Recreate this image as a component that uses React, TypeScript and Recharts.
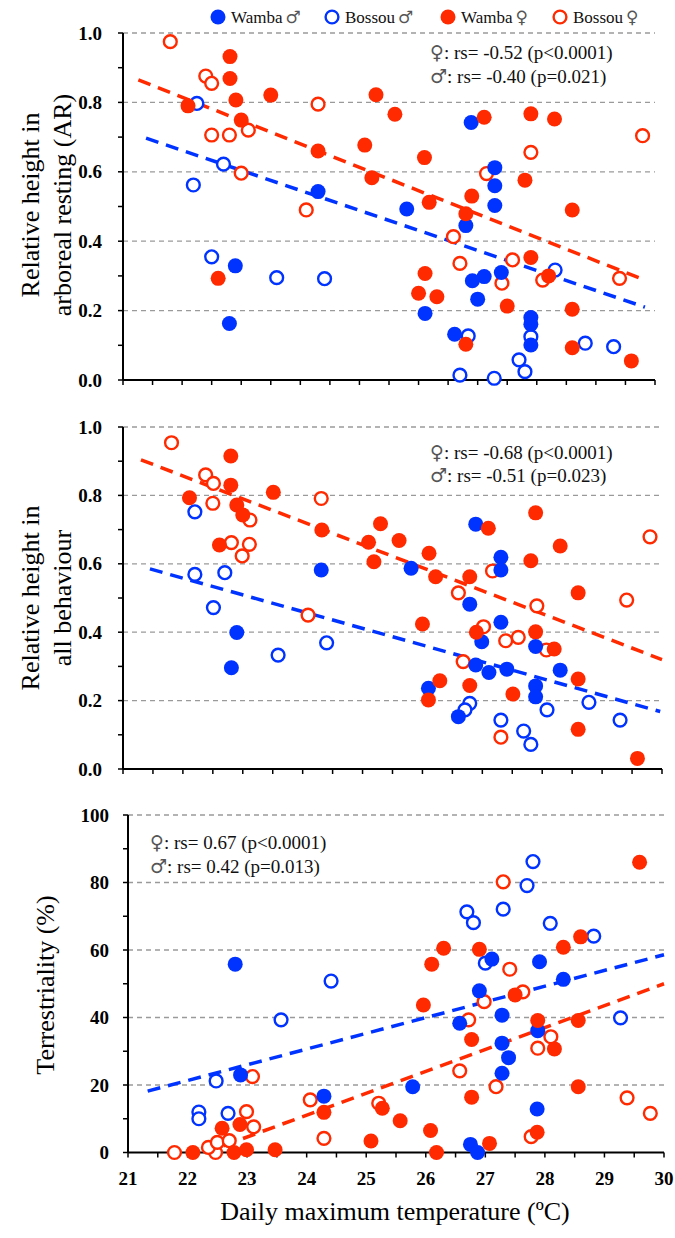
import React from 'react';
import { ScatterChart, Scatter, XAxis, YAxis, CartesianGrid, ReferenceLine } from 'recharts';

const BLUE = '#0033ff';
const RED = '#ff2a00';
const SERIF = '"Liberation Serif", "Times New Roman", serif';
const SYMBOL = '"DejaVu Sans", sans-serif';

// shared axis ticks
const xTicks = [21, 21.5, 22, 22.5, 23, 23.5, 24, 24.5, 25, 25.5, 26, 26.5, 27, 27.5, 28, 28.5, 29, 29.5, 30];
const fracTicks = [0, 0.1, 0.2, 0.3, 0.4, 0.5, 0.6, 0.7, 0.8, 0.9, 1.0];
const fracGrid = [0.2, 0.4, 0.6, 0.8, 1.0];
const pctTicks = [0, 10, 20, 30, 40, 50, 60, 70, 80, 90, 100];
const pctGrid = [20, 40, 60, 80, 100];

// panel 1: relative height in arboreal resting
const arWambaM = [[24.30, 0.543], [22.90, 0.329], [22.80, 0.163], [26.89, 0.742], [27.29, 0.612], [27.29, 0.56], [25.80, 0.493], [27.29, 0.503], [26.80, 0.445], [27.11, 0.298], [27.40, 0.31], [26.91, 0.286], [27.0, 0.233], [26.11, 0.192], [27.90, 0.161], [27.90, 0.18], [26.61, 0.132], [27.90, 0.101]];
const arBossouM = [[22.25, 0.797], [22.70, 0.622], [22.19, 0.562], [22.50, 0.355], [23.60, 0.295], [24.41, 0.292], [28.31, 0.317], [26.84, 0.127], [27.90, 0.125], [28.82, 0.106], [29.30, 0.096], [27.70, 0.058], [27.80, 0.024], [26.70, 0.014], [27.28, 0.005]];
const arWambaF = [[22.81, 0.932], [22.81, 0.869], [22.10, 0.79], [22.91, 0.807], [23.50, 0.821], [25.28, 0.822], [23.0, 0.749], [25.09, 0.677], [24.30, 0.66], [25.21, 0.583], [22.61, 0.293], [25.60, 0.766], [27.11, 0.757], [27.90, 0.767], [28.30, 0.752], [26.10, 0.641], [27.80, 0.576], [26.18, 0.512], [26.90, 0.53], [28.60, 0.49], [26.80, 0.479], [27.90, 0.353], [26.11, 0.307], [28.20, 0.30], [26.0, 0.25], [26.31, 0.24], [27.50, 0.213], [28.60, 0.204], [26.80, 0.103], [28.60, 0.093], [29.60, 0.055]];
const arBossouF = [[21.8, 0.975], [22.40, 0.876], [22.50, 0.855], [24.30, 0.795], [23.12, 0.72], [22.50, 0.706], [22.80, 0.706], [23.0, 0.596], [24.10, 0.49], [29.79, 0.704], [27.90, 0.656], [27.15, 0.595], [26.59, 0.413], [26.70, 0.336], [27.59, 0.346], [27.41, 0.279], [28.10, 0.288], [29.40, 0.293]];
const arTrendF = [[21.26, 0.865], [29.75, 0.293]];
const arTrendM = [[21.39, 0.697], [29.83, 0.21]];

// panel 2: relative height in all behaviour
const allWambaM = [[24.31, 0.582], [22.90, 0.399], [22.81, 0.296], [26.89, 0.716], [27.31, 0.619], [27.31, 0.582], [25.81, 0.587], [26.79, 0.482], [27.31, 0.429], [26.99, 0.372], [27.89, 0.358], [26.89, 0.304], [27.11, 0.282], [27.41, 0.292], [28.30, 0.289], [26.10, 0.236], [27.89, 0.243], [27.89, 0.211], [26.60, 0.153]];
const allBossouM = [[22.20, 0.752], [22.20, 0.569], [22.70, 0.574], [22.51, 0.472], [23.59, 0.333], [24.40, 0.369], [26.79, 0.192], [26.71, 0.173], [28.08, 0.173], [28.78, 0.195], [29.30, 0.143], [27.31, 0.143], [27.69, 0.111], [27.81, 0.072]];
const allWambaF = [[22.80, 0.915], [22.80, 0.83], [23.51, 0.809], [22.11, 0.793], [22.90, 0.772], [23.00, 0.743], [24.32, 0.699], [25.30, 0.717], [25.10, 0.663], [25.19, 0.606], [22.61, 0.655], [25.61, 0.668], [28.30, 0.652], [26.11, 0.631], [27.81, 0.609], [26.22, 0.562], [26.79, 0.562], [28.60, 0.515], [27.89, 0.749], [27.10, 0.704], [26.00, 0.424], [26.90, 0.40], [27.89, 0.401], [28.20, 0.351], [26.29, 0.258], [26.79, 0.244], [28.60, 0.263], [26.10, 0.202], [27.51, 0.219], [28.60, 0.116], [29.59, 0.031]];
const allBossouF = [[21.81, 0.954], [22.38, 0.86], [22.51, 0.835], [24.31, 0.791], [22.50, 0.777], [23.12, 0.728], [22.81, 0.662], [23.11, 0.657], [22.99, 0.623], [24.09, 0.45], [29.80, 0.679], [27.17, 0.579], [26.60, 0.515], [29.41, 0.494], [27.91, 0.477], [27.02, 0.416], [27.39, 0.375], [27.60, 0.385], [28.07, 0.348], [26.68, 0.314], [27.31, 0.093]];
const allTrendF = [[21.30, 0.904], [30.0, 0.32]];
const allTrendM = [[21.45, 0.585], [29.97, 0.168]];

// panel 3: terrestriality (%)
const terWambaM = [[22.80, 55.8], [27.11, 57.3], [27.91, 56.5], [28.31, 51.3], [26.90, 47.9], [26.57, 38.3], [27.28, 40.7], [27.88, 36.1], [27.28, 32.4], [27.39, 28.1], [27.28, 23.5], [22.89, 23.0], [25.78, 19.5], [24.29, 16.7], [27.87, 12.9], [26.75, 2.4], [26.87, 0]];
const terBossouM = [[24.41, 50.8], [27.80, 86.2], [27.70, 79.1], [26.69, 71.3], [26.80, 68.1], [27.30, 72.1], [28.09, 67.9], [28.82, 64.1], [27.0, 56.1], [23.57, 39.3], [29.27, 39.9], [22.48, 21.2], [22.19, 12.0], [22.19, 10.0], [22.68, 11.6]];
const terWambaF = [[29.59, 86.0], [28.60, 63.9], [26.30, 60.5], [26.90, 60.2], [28.31, 60.8], [26.10, 55.8], [27.50, 46.7], [25.96, 43.7], [27.88, 39.1], [28.56, 39.1], [26.77, 33.5], [28.16, 30.7], [28.56, 19.5], [26.77, 16.4], [24.29, 11.9], [25.27, 13.1], [25.57, 9.4], [26.08, 6.5], [27.87, 6.0], [25.08, 3.4], [27.07, 2.7], [26.18, 0], [22.09, 0], [22.78, 0], [22.99, 0.8], [23.47, 0.8], [22.88, 8.3], [22.58, 7.2]];
const terBossouF = [[27.30, 80.2], [27.41, 54.3], [27.63, 47.6], [26.98, 44.7], [26.72, 39.3], [28.10, 34.3], [27.88, 30.9], [26.57, 24.2], [23.09, 22.5], [27.18, 19.5], [29.38, 16.2], [24.06, 15.6], [25.21, 14.6], [29.77, 11.6], [22.99, 12.1], [23.11, 7.6], [24.29, 4.2], [27.77, 4.7], [21.78, 0], [22.47, 0], [22.35, 1.5], [22.5, 3.0], [22.7, 3.5]];
const terTrendM = [[21.33, 18.2], [30.0, 58.6]];
const terTrendF = [[22.6, 2.0], [30.0, 50.0]];

const legendItems = [
  { name: 'Wamba', sex: '♂', color: BLUE, filled: true },
  { name: 'Bossou', sex: '♂', color: BLUE, filled: false },
  { name: 'Wamba', sex: '♀', color: RED, filled: true },
  { name: 'Bossou', sex: '♀', color: RED, filled: false },
];

const toXY = (arr: number[][]) => arr.map(([x, y]) => ({ x, y }));

const dotShape = (color: string, filled: boolean) => (props: any) => {
  const { cx, cy } = props;
  if (cx == null || cy == null) return <g />;
  return filled
    ? <circle cx={cx} cy={cy} r={7.5} fill={color} />
    : <circle cx={cx} cy={cy} r={6.4} fill="#fff" stroke={color} strokeWidth={2.4} />;
};

const YTick = (props: any) => {
  const { x, y, payload, labels, fmt } = props;
  if (!labels.includes(payload.value)) return <g />;
  return (
    <text x={x} y={y} dy={6.5} textAnchor="end" fontFamily={SERIF} fontWeight="bold" fontSize={19} fill="#000">
      {fmt(payload.value)}
    </text>
  );
};

const XTick = (props: any) => {
  const { x, y, payload, show } = props;
  if (!show || !Number.isInteger(payload.value)) return <g />;
  return (
    <text x={x} y={y} dy={24} textAnchor="middle" fontFamily={SERIF} fontWeight="bold" fontSize={19} fill="#000">
      {payload.value}
    </text>
  );
};

function Panel(p: any) {
  const groups = [
    { data: p.bossouM, color: BLUE, filled: false },
    { data: p.bossouF, color: RED, filled: false },
    { data: p.wambaM, color: BLUE, filled: true },
    { data: p.wambaF, color: RED, filled: true },
  ];
  const trends = [
    { pts: p.trendM, color: BLUE },
    { pts: p.trendF, color: RED },
  ];
  return (
    <div style={{ position: 'absolute', left: 0, top: p.top }}>
      <ScatterChart width={675} height={p.height} margin={p.margin}>
        <CartesianGrid vertical={false} horizontalValues={p.grid} stroke="#9a9a9a" strokeDasharray="5 4" strokeWidth={1.3} />
        <XAxis
          type="number"
          dataKey="x"
          domain={[21, 30]}
          ticks={xTicks}
          interval={0}
          height={p.xHeight}
          axisLine={{ stroke: '#000', strokeWidth: 2 }}
          tickLine={{ stroke: '#000', strokeWidth: 1.5 }}
          tickSize={5}
          tickMargin={3}
          tick={<XTick show={p.showX} />}
        />
        <YAxis
          type="number"
          dataKey="y"
          domain={p.yDomain}
          ticks={p.yTicks}
          interval={0}
          width={p.yWidth}
          axisLine={{ stroke: '#000', strokeWidth: 2 }}
          tickLine={{ stroke: '#000', strokeWidth: 1.5 }}
          tickSize={5}
          tickMargin={p.tickMargin}
          tick={<YTick labels={p.grid.concat([0])} fmt={p.fmt} />}
        />
        {groups.map((g, i) => (
          <Scatter key={i} data={toXY(g.data)} shape={dotShape(g.color, g.filled)} isAnimationActive={false} />
        ))}
        {trends.map((t, i) => (
          <ReferenceLine
            key={'t' + i}
            segment={[{ x: t.pts[0][0], y: t.pts[0][1] }, { x: t.pts[1][0], y: t.pts[1][1] }]}
            stroke={t.color}
            strokeWidth={3.5}
            strokeDasharray="13 8"
            ifOverflow="visible"
          />
        ))}
      </ScatterChart>
    </div>
  );
}

const StatLine = ({ x, y, sym, text }: any) => (
  <text x={x} y={y} fontFamily={SERIF} fontSize={19} fill="#111">
    <tspan fontFamily={SYMBOL} fontSize={19} fill="#555">{sym}</tspan>
    <tspan>{text}</tspan>
  </text>
);

const VTitle = ({ x, y, text, size = 26 }: any) => (
  <text x={x} y={y} transform={`rotate(-90 ${x} ${y})`} textAnchor="middle" dy="0.35em" fontFamily={SERIF} fontSize={size} fill="#000">
    {text}
  </text>
);

export default function App() {
  const legendX = [218, 332, 448, 560];
  return (
    <div style={{ position: 'absolute', left: 0, top: 0, width: 675, height: 1238, background: '#fff' }}>
      <Panel
        top={0} height={400} margin={{ top: 33, right: 20, bottom: 0, left: 0 }}
        yWidth={123} xHeight={20} tickMargin={16}
        yDomain={[0, 1]} yTicks={fracTicks} grid={fracGrid} fmt={(v: number) => v.toFixed(1)}
        wambaM={arWambaM} bossouM={arBossouM} wambaF={arWambaF} bossouF={arBossouF}
        trendF={arTrendF} trendM={arTrendM} showX={false}
      />
      <Panel
        top={400} height={389} margin={{ top: 27, right: 13, bottom: 0, left: 0 }}
        yWidth={123} xHeight={20} tickMargin={16}
        yDomain={[0, 1]} yTicks={fracTicks} grid={fracGrid} fmt={(v: number) => v.toFixed(1)}
        wambaM={allWambaM} bossouM={allBossouM} wambaF={allWambaF} bossouF={allBossouF}
        trendF={allTrendF} trendM={allTrendM} showX={false}
      />
      <Panel
        top={790} height={448} margin={{ top: 25, right: 11, bottom: 0, left: 0 }}
        yWidth={128} xHeight={85.5} tickMargin={14}
        yDomain={[0, 100]} yTicks={pctTicks} grid={pctGrid} fmt={(v: number) => String(v)}
        wambaM={terWambaM} bossouM={terBossouM} wambaF={terWambaF} bossouF={terBossouF}
        trendF={terTrendF} trendM={terTrendM} showX={true}
      />
      <svg width={675} height={1238} style={{ position: 'absolute', left: 0, top: 0, pointerEvents: 'none' }}>
        {legendItems.map((it, i) => (
          <g key={i}>
            {it.filled
              ? <circle cx={legendX[i]} cy={17} r={7.5} fill={it.color} />
              : <circle cx={legendX[i]} cy={17} r={6.4} fill="#fff" stroke={it.color} strokeWidth={2.4} />}
            <text x={legendX[i] + 13} y={23} fontFamily={SERIF} fontSize={17} fill="#111">
              {it.name}
              <tspan dx={3} fontFamily={SYMBOL} fontSize={17} fill="#555">{it.sex}</tspan>
            </text>
          </g>
        ))}
        <VTitle x={30} y={205} text="Relative height in" />
        <VTitle x={62} y={205} text="arboreal resting (AR)" />
        <VTitle x={30} y={598} text="Relative height in" />
        <VTitle x={62} y={598} text="all behaviour" />
        <VTitle x={45} y={985} text="Terrestriality (%)" />
        <StatLine x={430} y={59} sym="♀" text=": rs= -0.52 (p<0.0001)" />
        <StatLine x={430} y={83} sym="♂" text=": rs= -0.40 (p=0.021)" />
        <StatLine x={430} y={459} sym="♀" text=": rs= -0.68 (p<0.0001)" />
        <StatLine x={430} y={482} sym="♂" text=": rs= -0.51 (p=0.023)" />
        <StatLine x={150} y={849} sym="♀" text=": rs= 0.67 (p<0.0001)" />
        <StatLine x={150} y={873} sym="♂" text=": rs= 0.42 (p=0.013)" />
        <text x={395} y={1220} textAnchor="middle" fontFamily={SERIF} fontSize={26} fill="#000">
          Daily maximum temperature (ºC)
        </text>
      </svg>
    </div>
  );
}
